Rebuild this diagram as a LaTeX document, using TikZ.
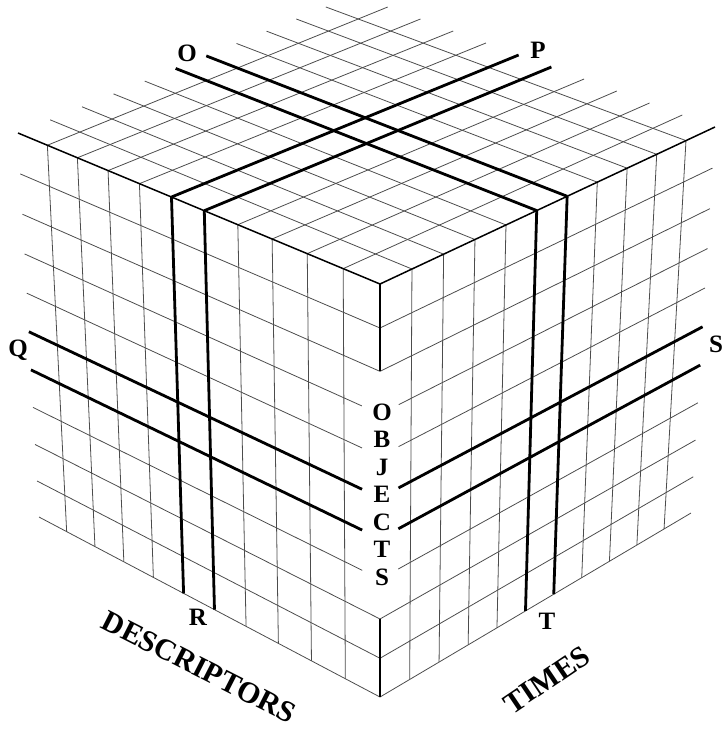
\documentclass[tikz,border=0pt]{standalone}
\usepackage{fontspec}
\setmainfont{Liberation Serif}
\usetikzlibrary{calc}
\begin{document}
\begin{tikzpicture}[
    % Các kiểu nét và chữ
    x=1pt,y=-1pt,
    luoi/.style={line width=0.8pt, black!70}, % đường lưới mảnh
    canh/.style={line width=1.5pt, black}, % cạnh của khối
    cat/.style={line width=2.8pt, black}, % các lát cắt đậm
    chu/.style={font=\bfseries\fontsize{25}{25}\selectfont, inner sep=0pt}, % chữ cái nhãn
    truc/.style={font=\bfseries\fontsize{30}{30}\selectfont, inner sep=0pt}, % tên trục
    declare function={
      wl(\i)=(\i/(1+0.012*\i))/(11/1.132);
      wr(\i)=(\i/(1+0.005*\i))/(11/1.055);
      wv(\i)=(\i/(1+0.0073*\i))/(10/1.073);
    },
    line join=round]
  \useasboundingbox (0,0) rectangle (725,729);

  % Các góc của khối
  \coordinate (A) at (380,284);  % đỉnh trước, trên
  \coordinate (B) at (380,697);  % đỉnh trước, dưới
  \coordinate (L) at (18,133);   % mép trái, trên
  \coordinate (Lb) at (39,517);  % mép trái, dưới
  \coordinate (R) at (715,127);  % mép phải, trên
  \coordinate (Rb) at (691,513); % mép phải, dưới
  \coordinate (K) at (355,-5);   % góc sau của mặt trên

  % Lưới mảnh trên ba mặt
  \foreach \i in {1,2,3,4,7,8,9,10}{
    \draw[luoi] ($(A)!{wl(\i)}!(L)$) -- ($(B)!{wl(\i)}!(Lb)$);
    \draw[luoi] ($(A)!{wr(\i)}!(R)$) -- ($(B)!{wr(\i)}!(Rb)$);
    \draw[luoi] ($(A)!{wl(\i)}!(L)$) -- ($(R)!{\i/11}!(K)$);
    \draw[luoi] ($(A)!{wr(\i)}!(R)$) -- ($(L)!{wr(\i)}!(K)$);
    \coordinate (m) at ($(A)!{wv(\i)}!(B)$);
    \coordinate (n) at ($(L)!{wv(\i)}!(Lb)$);
    \coordinate (o) at ($(R)!{wv(\i)}!(Rb)$);
    \pgfmathsetmacro\cutL{(\i>2)*(\i<8)*wl(0.5)}
    \pgfmathsetmacro\cutR{(\i>2)*(\i<8)*wr(0.6)}
    \draw[luoi] ($(m)!\cutL!(n)$) -- (n);
    \draw[luoi] ($(m)!\cutR!(o)$) -- (o);
  }

  % Cạnh của khối
  \draw[canh] (L) -- (A) -- (R);
  \draw[canh] (A) -- ($(A)!{wv(2)}!(B)$);
  \draw[canh] ($(A)!{wv(8)}!(B)$) -- (B);

  % Các lát cắt đậm
  \foreach \i in {5,6}{
    \draw[cat] ($(A)!{wl(\i)}!(L)$) -- ($(B)!{wl(\i)}!(Lb)$);
    \draw[cat] ($(A)!{wr(\i)}!(R)$) -- ($(B)!{wr(\i)}!(Rb)$);
    \draw[cat] ($(A)!{wl(\i)}!(L)$) -- ($(R)!{\i/11}!(K)$);
    \draw[cat] ($(A)!{wr(\i)}!(R)$) -- ($(L)!{wr(\i)}!(K)$);
    \coordinate (m) at ($(A)!{wv(\i)}!(B)$);
    \coordinate (n) at ($(L)!{wv(\i)}!(Lb)$);
    \coordinate (o) at ($(R)!{wv(\i)}!(Rb)$);
    \draw[cat] ($(m)!{wl(0.5)}!(n)$) -- (n);
    \draw[cat] ($(m)!{wr(0.6)}!(o)$) -- (o);
  }

  % Nhãn các lát cắt
  \node[chu] (nhanO) at (187,53) {O};
  \node[chu] (nhanP) at (538,50) {P};
  \node[chu] (nhanQ) at (18,350) {Q};
  \node[chu] (nhanS) at (716,344) {S};
  \node[chu] (nhanR) at (198,617) {R};
  \node[chu] (nhanT) at (547,621) {T};

  % Tên các trục
  \foreach \chuCai [count=\k from 0] in {O,B,J,E,C,T,S}
    \node[chu] (doiTuong\k) at (382,{412+27.5*\k}) {\chuCai};
  \node[truc, rotate=-27] (moTa) at (199,667) {DESCRIPTORS};
  \node[truc, rotate=34] (thoiGian) at (547,680) {TIMES};
\end{tikzpicture}
\end{document}
